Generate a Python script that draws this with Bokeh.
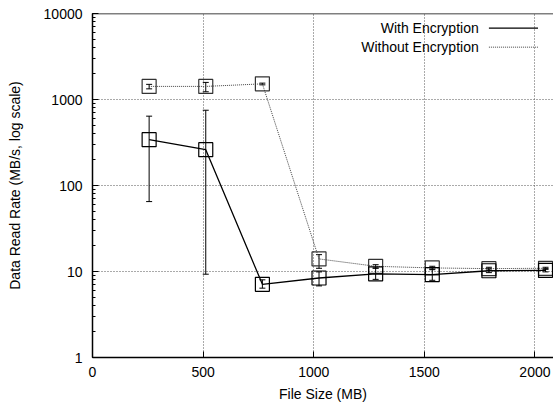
from bokeh.plotting import figure
from bokeh.models import (Range1d, LogTicker, FixedTicker, Whisker, TeeHead,
                          ColumnDataSource, Label, Arrow, Span, NumeralTickFormatter)
from bokeh.embed import file_html
from bokeh.resources import INLINE

# ---- data ----
file_sizes = [256, 512, 768, 1024, 1280, 1536, 1792, 2048]
with_enc = [341, 261, 7.1, 8.4, 9.4, 9.2, 10.2, 10.3]
with_lo = [65, 9.3, 6.4, 6.8, 8.1, 7.9, 9.7, 9.9]
with_hi = [640, 750, 8.0, 9.9, 11.0, 10.7, 10.8, 10.8]
without_enc = [1420, 1420, 1520, 14.0, 11.5, 11.0, 10.8, 10.9]
without_lo = [1330, 1230, 1480, 10.9, 10.9, 10.5, 10.4, 10.6]
without_hi = [1500, 1580, 1550, 15.7, 12.0, 11.5, 11.2, 11.2]
x_ticks = [0, 500, 1000, 1500, 2000]
series_names = ["With Encryption", "Without Encryption"]

FONT = "Liberation Sans"

p = figure(width=553, height=405, y_axis_type="log",
           x_range=Range1d(0, 2084), y_range=Range1d(1, 10000),
           output_backend="svg", toolbar_location=None,
           min_border_left=92, min_border_right=0, min_border_top=13,
           min_border_bottom=48)
p.outline_line_color = None
p.background_fill_color = "white"
p.border_fill_color = "white"

# axes
p.xaxis.ticker = FixedTicker(ticks=x_ticks)
p.yaxis.ticker = LogTicker(num_minor_ticks=10)
p.yaxis.formatter = NumeralTickFormatter(format="0")
for ax in (p.xaxis[0], p.yaxis[0]):
    ax.axis_line_color = "black"
    ax.axis_line_width = 1.5
    ax.major_tick_in = 6
    ax.major_tick_out = 0
    ax.major_tick_line_color = "black"
    ax.major_label_text_font = FONT
    ax.major_label_text_font_size = "14px"
    ax.major_label_text_color = "black"
    ax.axis_label_text_font = FONT
    ax.axis_label_text_font_size = "14px"
    ax.axis_label_text_font_style = "normal"
    ax.axis_label_text_color = "black"
p.xaxis.minor_tick_line_color = None
p.yaxis.minor_tick_in = 3
p.yaxis.minor_tick_out = 0
p.yaxis.minor_tick_line_color = "black"
p.xaxis.major_label_standoff = 9
p.yaxis.major_label_standoff = 10
p.xaxis.axis_label = "File Size (MB)"
p.yaxis.axis_label = "Data Read Rate (MB/s, log scale)"
p.xaxis.axis_label_standoff = 6
p.yaxis.axis_label_standoff = 18

# grid
for g in (p.xgrid[0], p.ygrid[0]):
    g.grid_line_color = "#555555"
    g.grid_line_dash = "1 2"
    g.grid_line_width = 1
p.ygrid.minor_grid_line_color = None
p.xgrid.ticker = FixedTicker(ticks=x_ticks[1:])
p.ygrid.ticker = FixedTicker(ticks=[10, 100, 1000])

# top border
p.add_layout(Span(location=10000, dimension="width", line_color="black", line_width=1.5))

src_w = ColumnDataSource(dict(x=file_sizes, y=with_enc, lo=with_lo, hi=with_hi))
src_o = ColumnDataSource(dict(x=file_sizes, y=without_enc, lo=without_lo, hi=without_hi))

# without encryption (dotted)
p.line("x", "y", source=src_o, line_color="#444444", line_dash="1 1", line_width=1)
p.add_layout(Whisker(source=src_o, base="x", upper="hi", lower="lo", dimension="height",
                     line_color="black", line_width=1,
                     upper_head=TeeHead(size=6, line_color="black", line_width=1),
                     lower_head=TeeHead(size=6, line_color="black", line_width=1)))
p.scatter("x", "y", source=src_o, marker="square", size=14, fill_color=None,
          line_color="#333333", line_width=1.2)

# with encryption (solid)
p.line("x", "y", source=src_w, line_color="black", line_width=1.3)
p.add_layout(Whisker(source=src_w, base="x", upper="hi", lower="lo", dimension="height",
                     line_color="black", line_width=1,
                     upper_head=TeeHead(size=6, line_color="black", line_width=1),
                     lower_head=TeeHead(size=6, line_color="black", line_width=1)))
p.scatter("x", "y", source=src_w, marker="square", size=14, fill_color=None,
          line_color="black", line_width=1.2)

# legend (text left of line sample, like the original)
leg_text_x = 1746
leg_line = (1792, 2014)
leg_rows = [6750, 4060]
styles = [dict(line_color="black", line_width=1.3, line_dash="solid"),
          dict(line_color="#444444", line_width=1, line_dash="1 1")]
for name, yy, st in zip(series_names, leg_rows, styles):
    p.add_layout(Label(x=leg_text_x, y=yy, text=name, text_align="right",
                       text_baseline="middle", text_font=FONT,
                       text_font_size="14px", text_color="black"))
    p.add_layout(Arrow(x_start=leg_line[0], y_start=yy, x_end=leg_line[1], y_end=yy,
                       start=None, end=None, **st))

open("out.html", "w").write(file_html(p, INLINE))
